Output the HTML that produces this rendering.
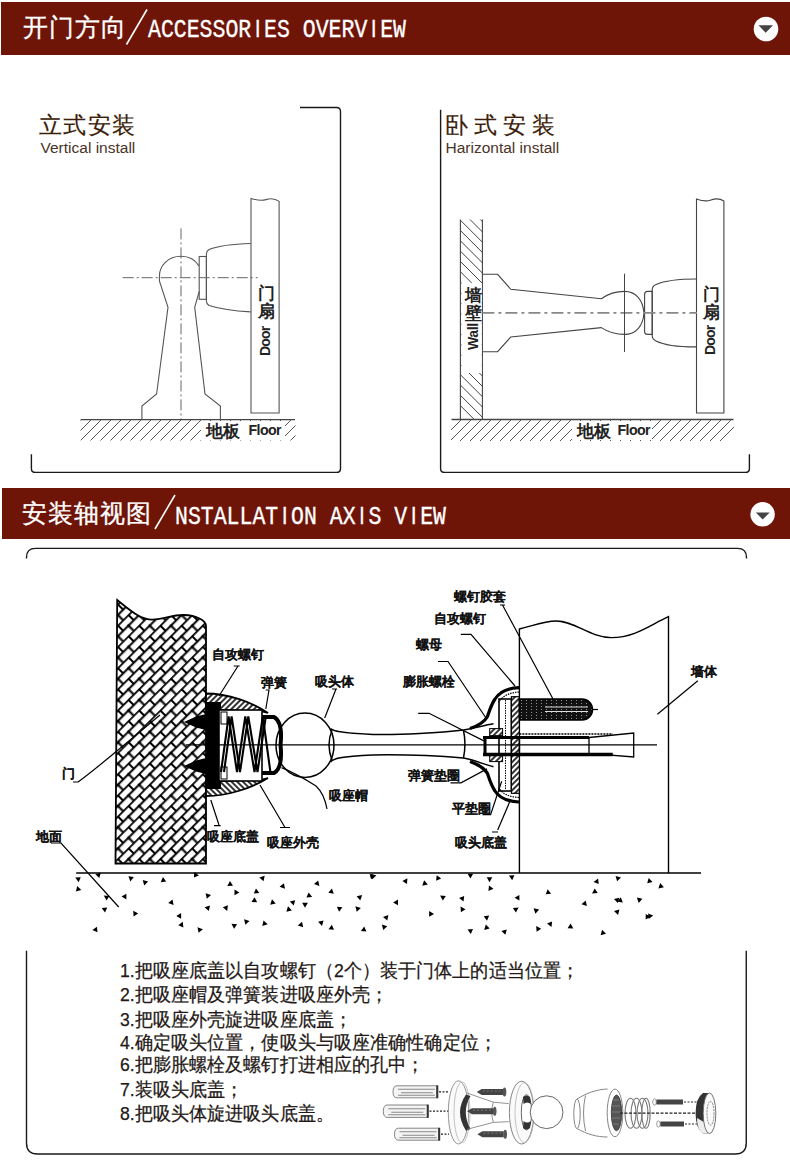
<!DOCTYPE html>
<html><head><meta charset="utf-8">
<style>
html,body{margin:0;padding:0;background:#fff;}
body{width:790px;height:1175px;position:relative;overflow:hidden;font-family:"Liberation Sans",sans-serif;}
.bar{position:absolute;background:#6e1508;}
.t{position:absolute;white-space:nowrap;line-height:1;}
.hcn{color:#fff;font-size:25px;letter-spacing:1.1px;-webkit-text-stroke:0.3px #fff;}
.hen{color:#fff;font-family:"Liberation Mono",monospace;font-size:21.5px;transform-origin:0 0;transform:scaleY(1.2);-webkit-text-stroke:0.3px #fff;}
.ttl{color:#3c1e0a;font-size:23px;letter-spacing:1.5px;-webkit-text-stroke:0.2px #3c1e0a;}
.sub{color:#4a3328;font-size:15.5px;letter-spacing:0px;}
.lb{color:#111;font-weight:bold;font-size:12.5px;-webkit-text-stroke:0.1px #111;}
.ins{color:#231815;font-size:18.5px;transform-origin:0 0;transform:scaleX(0.953);-webkit-text-stroke:0.25px #231815;}
svg{position:absolute;left:0;top:0;}
.ii{display:inline-block;width:12.9px;text-align:center;font-family:"Liberation Sans",sans-serif;font-size:19.6px;}
.fl{color:#222;font-weight:bold;font-size:17px;}
.fe{color:#222;font-weight:bold;font-size:14.2px;letter-spacing:-0.6px;}
.vl{color:#222;font-weight:bold;font-size:16.5px;line-height:18px;}
.rot{color:#222;font-weight:bold;font-size:14px;transform-origin:0 0;transform:rotate(-90deg);}
</style></head>
<body>
<div class="bar" style="left:1px;top:2px;width:789px;height:53px;"></div>
<div class="bar" style="left:2px;top:488px;width:788px;height:51px;"></div>

<svg width="790" height="1175" viewBox="0 0 790 1175">
  <!-- header icons -->
  <circle cx="766" cy="29" r="12.3" fill="#fff"/>
  <path d="M758.5 25.2 L773 25.2 L765.7 32.8 Z" fill="#444"/>
  <circle cx="762.6" cy="514.3" r="12.2" fill="#fff"/>
  <path d="M755.8 512.5 L769.7 512.5 L762.7 519.6 Z" fill="#444"/>
  <!-- header slashes -->
  <line x1="126.5" y1="44.5" x2="147" y2="9.5" stroke="#fff" stroke-width="1.6"/>
  <line x1="155" y1="529" x2="175" y2="495" stroke="#fff" stroke-width="1.6"/>


  <!-- ===== Section1 left: vertical install ===== -->
  <defs>
    <clipPath id="cf1"><rect x="80.5" y="420" width="215" height="20.5"/></clipPath>
    <clipPath id="cf2"><rect x="451" y="420" width="283" height="21"/></clipPath>
    <clipPath id="cw"><rect x="460.4" y="219.6" width="22" height="199.5"/></clipPath>
  </defs>
  <g fill="none" stroke="#555" stroke-width="1.1">
    <!-- door -->
    <path d="M251 413 V198.4 C256 200 262 200.8 266 199.6 C270 198.4 274 197.6 279.1 201.4 V413 Z" fill="#fff"/>
    <!-- cup -->
    <path d="M250.6 243.5 C232 244 218 246 209 249.5 Q206.4 251 206.4 254 V301 Q206.4 304 209 305.5 C220 309 235 311 250.6 311.9"/>
    <!-- collar -->
    <rect x="199.2" y="256.5" width="7.2" height="42.8"/>
    <!-- bulb & stem -->
    <path d="M199.2 291.4 L194.7 307.3 L205 394 L220.4 406 V419.7 M199 266 C195 259 188 256.2 181 256.2 C168 256.2 159.4 266 159.4 276 V280.8 L168 307.3 L156.6 394 L141.9 406 V419.7"/>
    <!-- floor -->
    <path d="M80.7 419.7 H295" stroke="#444" stroke-width="1.3"/>
  </g>
  <g clip-path="url(#cf1)" stroke="#555" stroke-width="1">
    <path d="M60 441 l22 -22 M70 441 l22 -22 M80 441 l22 -22 M90 441 l22 -22 M100 441 l22 -22 M110 441 l22 -22 M120 441 l22 -22 M130 441 l22 -22 M140 441 l22 -22 M150 441 l22 -22 M160 441 l22 -22 M170 441 l22 -22 M180 441 l22 -22 M190 441 l22 -22 M200 441 l22 -22 M210 441 l22 -22 M220 441 l22 -22 M230 441 l22 -22 M240 441 l22 -22 M250 441 l22 -22 M260 441 l22 -22 M270 441 l22 -22 M280 441 l22 -22 M290 441 l22 -22"/>
  </g>
  <rect x="201" y="421" width="84" height="19" fill="#fff"/>
  <!-- centerlines -->
  <g stroke="#666" stroke-width="1" stroke-dasharray="11 3 2 3" fill="none">
    <path d="M181 228.4 V419"/>
    <path d="M122.7 277.7 H257.7"/>
  </g>

  <!-- ===== Section1 right: horizontal install ===== -->
  <g fill="none" stroke="#444" stroke-width="1.1">
    <!-- wall -->
    <path d="M460.4 419.5 V219.6 M482.4 419.5 V219.6"/>
    <!-- door -->
    <path d="M696.5 413 V199 C702 201 707 201.5 711 200 C715 198.5 719 198 723.9 201 V413 Z" fill="#fff"/>
    <!-- base + rod -->
    <path d="M482.4 274.3 H497.6 L510.8 289.3 L601.3 298.7 C608 294 614 291.4 624.5 291.4 C636 291.4 643 300 644 313 C643 326 636 334.4 624.5 334.4 C614 334.4 608 332 601.3 327.6 L510.8 337 L497.6 351.7 H482.4"/>
    <!-- collar -->
    <path d="M652.2 291.4 H647.6 Q644.6 291.4 644.6 294.4 V331.4 Q644.6 334.4 647.6 334.4 H652.2 Z"/>
    <!-- cup -->
    <path d="M696.2 279 C678 279 664 281 656 284.5 Q652.2 286 652.2 290 V336 Q652.2 339 656 341 C664 345 678 347 696.2 346.9"/>
    <path d="M451.5 419.5 H733.5" stroke-width="1.3"/>
  </g>
  <g clip-path="url(#cw)" stroke="#444" stroke-width="1">
    <path d="M460.4 199.6 l30 30 M460.4 209.9 l30 30 M460.4 220.2 l30 30 M460.4 230.5 l30 30 M460.4 240.8 l30 30 M460.4 251.1 l30 30 M460.4 261.4 l30 30 M460.4 271.7 l30 30 M460.4 282 l30 30 M460.4 292.3 l30 30 M460.4 302.6 l30 30 M460.4 312.9 l30 30 M460.4 323.2 l30 30 M460.4 333.5 l30 30 M460.4 343.8 l30 30 M460.4 354.1 l30 30 M460.4 364.4 l30 30 M460.4 374.7 l30 30 M460.4 385 l30 30 M460.4 395.3 l30 30 M460.4 405.6 l30 30"/>
  </g>
  <g clip-path="url(#cf2)" stroke="#555" stroke-width="1">
    <path d="M430 441 l22 -22 M440 441 l22 -22 M450 441 l22 -22 M460 441 l22 -22 M470 441 l22 -22 M480 441 l22 -22 M490 441 l22 -22 M500 441 l22 -22 M510 441 l22 -22 M520 441 l22 -22 M530 441 l22 -22 M540 441 l22 -22 M550 441 l22 -22 M560 441 l22 -22 M570 441 l22 -22 M580 441 l22 -22 M590 441 l22 -22 M600 441 l22 -22 M610 441 l22 -22 M620 441 l22 -22 M630 441 l22 -22 M640 441 l22 -22 M650 441 l22 -22 M660 441 l22 -22 M670 441 l22 -22 M680 441 l22 -22 M690 441 l22 -22 M700 441 l22 -22 M710 441 l22 -22 M720 441 l22 -22"/>
  </g>
  <rect x="572" y="421" width="80" height="19" fill="#fff"/>
  <rect x="461.5" y="283" width="20.2" height="90" fill="#fff"/>
  <g stroke="#888" stroke-width="1.6" stroke-dasharray="12 4 3 4" fill="none">
    <path d="M482.4 312.9 H697"/>
  </g>
  <path d="M624.5 273.7 V352" stroke="#444" stroke-width="1"/>


  <!-- ===== Section2 axis view ===== -->
  <defs>
    <pattern id="brick" patternUnits="userSpaceOnUse" width="15" height="15" patternTransform="rotate(-45)">
      <rect width="15" height="15" fill="#fff"/>
      <path d="M0 0.7 H15 M0 8.2 H15 M1 0 V8.2 M8.5 8.2 V15" stroke="#000" stroke-width="2.1" fill="none"/><circle cx="1" cy="0.7" r="1.5"/><circle cx="8.5" cy="8.2" r="1.5"/>
    </pattern>
    <pattern id="hat" patternUnits="userSpaceOnUse" width="4" height="4" patternTransform="rotate(45)">
      <rect width="4" height="4" fill="#fff"/>
      <path d="M0 1 H4" stroke="#000" stroke-width="1.6"/>
    </pattern>
    <pattern id="hat2" patternUnits="userSpaceOnUse" width="4" height="4" patternTransform="rotate(-45)">
      <rect width="4" height="4" fill="#fff"/>
      <path d="M0 1 H4" stroke="#000" stroke-width="1.6"/>
    </pattern>
    <pattern id="dotp" patternUnits="userSpaceOnUse" width="5" height="3">
      <rect width="5" height="3" fill="#111"/>
      <rect x="1" y="1" width="0.8" height="0.8" fill="#ddd"/>
    </pattern>
  </defs>
  <!-- door block -->
  <path d="M117.2 600 C130 610 140 619.6 152 619.6 C165 619.6 172 614.5 184 615 C196 615.5 206 620 206 626 V863.5 H115.5 Z" fill="url(#brick)" stroke="#000" stroke-width="1.8"/>
  <!-- housing shells -->
  <path d="M206 693.5 C228 693.5 252 702 268 713 L262 711.5 L219 710 H206 Z" fill="url(#hat2)" stroke="#000" stroke-width="1.8"/>
  <path d="M206 796 C228 796 252 788 268 778 L262 779.5 L219 781 H206 Z" fill="url(#hat)" stroke="#000" stroke-width="1.8"/>
  <rect x="206" y="702" width="15" height="87" fill="#000"/>
  <path d="M184 722 L196 716.5 L210 713 L210 731 L196 727.5 Z M184 766 L196 760.5 L210 757 L210 775 L196 771.5 Z" fill="#000"/>
  <rect x="219" y="710" width="43" height="71" fill="#fff" stroke="#000" stroke-width="1.6"/>
  <rect x="221" y="712" width="6" height="12" fill="#fff" stroke="#000" stroke-width="1"/>
  <rect x="221" y="767" width="6" height="12" fill="#fff" stroke="#000" stroke-width="1"/>
  <g fill="none" stroke="#000" stroke-width="2.1">
    <polyline points="221,772 228.6,716.5 237,772 245.3,716.5 254.5,772 262.8,716.5 270.4,772"/>
    <polyline points="224,772 231.6,716.5 240,772 248.3,716.5 257.5,772 265.8,716.5"/>
  </g>
  <!-- ball -->
  <ellipse cx="305" cy="745.3" rx="29" ry="32.2" fill="#fff" stroke="#000" stroke-width="1.5"/>
  <path d="M262 717 H274 Q283 722 280.5 745 Q283 768 274 773 H262" fill="none" stroke="#000" stroke-width="4"/>
  <!-- rod -->
  <g fill="none" stroke="#000" stroke-width="1.5">
    <path d="M330.5 728.5 C333 731 340 733 373 734.4 C400 735 440 733 463.4 730.1 C475 728 485 725 493.5 723.7"/>
    <path d="M330.5 762 C333 758.5 340 756.5 373 754.9 C400 754.5 440 756 463.4 758.1 C475 760 485 765 493.5 766.7"/>
    <path d="M332 730 Q326 745 332 760"/>
    <path d="M463.4 730 Q466.5 744 463.4 758.5"/>
  </g>
  <!-- anchor side wall -->
  <path d="M519.4 873 V629 C535 625 545 621 556 621 C575 621 590 637.6 611.4 637.6 C635 637.6 650 625 668.5 616.7 V873" fill="none" stroke="#000" stroke-width="1.4"/>
  <!-- floor line -->
  <path d="M76.2 873 H701" stroke="#000" stroke-width="1.6"/>
  <g fill="#000"><polygon points="78.6,882.2 75.3,877.6 80.8,877.2"/><polygon points="95.4,874.2 100.8,872.7 99.3,878.1"/><polygon points="75.9,891.6 77.2,886.1 81.3,890.0"/><polygon points="128.4,876.3 133.8,876.9 130.4,881.4"/><polygon points="142.7,880.0 148.1,881.5 144.2,885.4"/><polygon points="166.2,881.6 160.7,882.2 162.9,877.1"/><polygon points="198.9,875.4 193.9,877.6 194.3,872.1"/><polygon points="126.4,893.7 126.4,899.4 121.6,896.5"/><polygon points="106.5,900.5 103.8,895.5 109.5,895.9"/><polygon points="105.0,912.6 101.7,908.1 107.2,907.5"/><polygon points="138.2,913.4 133.6,916.4 133.2,910.7"/><polygon points="168.2,903.1 172.5,899.4 173.6,904.9"/><polygon points="181.1,913.1 181.1,918.7 176.3,915.9"/><polygon points="178.3,925.3 182.7,921.7 183.4,927.4"/><polygon points="197.5,927.3 202.9,929.2 198.6,932.8"/><polygon points="97.5,932.3 92.4,930.1 96.9,926.8"/><polygon points="205.6,893.2 211.0,895.0 206.8,898.7"/><polygon points="210.0,905.4 208.8,910.9 204.6,907.2"/><polygon points="222.8,907.3 227.9,905.2 227.2,910.9"/><polygon points="230.0,881.1 233.0,885.7 227.3,886.1"/><polygon points="234.5,889.5 239.4,892.5 234.5,895.2"/><polygon points="259.3,892.9 253.8,893.5 256.0,888.4"/><polygon points="254.5,897.3 257.2,902.3 251.5,901.9"/><polygon points="231.4,923.8 237.1,924.2 234.1,928.8"/><polygon points="245.3,924.7 244.1,919.2 249.5,921.0"/><polygon points="267.7,924.2 262.3,926.0 263.5,920.5"/><polygon points="264.7,875.8 263.5,881.3 259.3,877.6"/><polygon points="279.6,886.8 283.9,883.2 285.0,888.7"/><polygon points="272.0,899.3 275.7,903.5 270.2,904.7"/><polygon points="295.2,900.2 293.7,905.6 289.8,901.5"/><polygon points="288.0,906.3 291.9,910.4 286.4,911.7"/><polygon points="307.9,902.8 305.0,907.7 302.2,902.8"/><polygon points="306.5,897.5 308.6,892.4 312.2,896.9"/><polygon points="318.2,880.4 319.4,885.9 314.0,884.1"/><polygon points="328.3,892.7 331.9,888.4 333.8,893.8"/><polygon points="342.4,907.3 339.1,911.8 336.9,906.7"/><polygon points="323.5,920.5 322.0,925.9 318.1,921.8"/><polygon points="334.0,929.8 328.5,929.3 331.8,924.8"/><polygon points="303.2,927.2 297.8,925.4 302.0,921.7"/><polygon points="360.3,900.5 356.6,896.3 362.1,895.1"/><polygon points="360.9,908.0 356.7,911.7 355.4,906.2"/><polygon points="360.9,931.0 364.2,926.5 366.4,931.6"/><polygon points="369.6,873.9 375.0,875.4 371.1,879.3"/><polygon points="372.2,879.3 371.0,873.8 376.4,875.6"/><polygon points="402.4,880.9 407.4,878.2 407.0,883.9"/><polygon points="422.3,885.7 424.1,880.3 427.8,884.5"/><polygon points="436.1,880.8 436.7,875.3 441.2,878.6"/><polygon points="467.6,873.7 473.2,873.7 470.4,878.6"/><polygon points="486.7,877.3 492.3,877.3 489.5,882.2"/><polygon points="514.4,875.2 512.2,880.2 508.9,875.6"/><polygon points="489.0,885.5 493.5,888.8 488.4,891.0"/><polygon points="445.8,895.9 442.8,900.5 440.1,895.5"/><polygon points="464.2,895.9 463.5,901.6 459.1,898.0"/><polygon points="465.5,909.3 460.9,912.3 460.5,906.6"/><polygon points="429.1,911.0 434.0,914.0 429.1,916.7"/><polygon points="398.0,905.3 393.1,902.5 398.0,899.6"/><polygon points="388.4,915.1 387.3,920.6 383.0,917.0"/><polygon points="387.3,926.2 383.2,929.9 381.9,924.4"/><polygon points="473.0,929.1 470.8,934.1 467.5,929.5"/><polygon points="483.7,916.2 489.2,915.6 487.0,920.7"/><polygon points="485.8,924.5 489.7,928.6 484.2,929.9"/><polygon points="505.3,934.8 501.4,930.9 506.8,929.4"/><polygon points="519.4,894.9 519.4,900.5 514.6,897.7"/><polygon points="512.9,908.0 518.6,907.6 515.9,912.6"/><polygon points="535.4,913.8 533.6,908.3 539.1,909.6"/><polygon points="551.1,893.7 545.7,894.3 547.7,889.2"/><polygon points="552.1,921.5 551.5,926.9 547.0,923.5"/><polygon points="541.2,928.8 536.6,931.8 536.2,926.1"/><polygon points="573.3,928.6 567.6,928.2 570.6,923.6"/><polygon points="585.7,900.6 586.9,906.1 581.5,904.3"/><polygon points="592.0,893.4 594.7,888.4 597.7,893.0"/><polygon points="598.7,884.1 593.6,881.9 598.1,878.6"/><polygon points="617.1,881.3 615.6,875.9 621.0,877.4"/><polygon points="620.7,897.3 622.9,902.4 617.4,901.8"/><polygon points="619.4,909.5 618.1,914.9 614.0,911.0"/><polygon points="606.0,933.7 600.6,935.2 602.1,929.8"/><polygon points="636.9,897.5 642.4,898.7 638.7,902.9"/><polygon points="652.6,882.0 647.2,883.3 648.7,877.9"/><polygon points="660.2,883.1 663.9,887.3 658.4,888.5"/><polygon points="645.7,919.5 645.7,913.9 650.6,916.7"/><polygon points="619.4,897.7 617.8,903.1 613.9,899.0"/><polygon points="653.2,915.6 648.7,918.9 648.1,913.4"/></g>
  <!-- anchor cup -->
  <rect x="499" y="699" width="12.4" height="92" fill="#fff" stroke="#000" stroke-width="1.6"/>
  <path d="M505.5 700 V790" stroke="#000" stroke-width="1" stroke-dasharray="1.5 1"/>
  <rect x="511.4" y="696.7" width="8" height="96.6" fill="url(#hat2)" stroke="#000" stroke-width="1.2"/>
  <path d="M519 687.6 C510 688 500 691 495 699 C491 705 489 712 487.5 716.4 C485 721 480 725 470 728.6 M519 802 C510 801.5 500 799 495 791 C491 785 489 778 487.5 773.6 C485 769 480 765 470 761.4" fill="none" stroke="#000" stroke-width="3.2"/>
  <path d="M519 692 C511 692.5 503 695 499 702 M519 797.5 C511 797 503 795 499 788" fill="none" stroke="#000" stroke-width="1.2" stroke-dasharray="1.5 1"/>
  <rect x="489.7" y="728.6" width="12.9" height="7" fill="url(#hat2)" stroke="#000" stroke-width="1"/>
  <rect x="489.7" y="754.8" width="12.9" height="6.8" fill="url(#hat2)" stroke="#000" stroke-width="1"/>
  <path d="M519.4 699 H582 A10.5 10.5 0 0 1 582 720 H519.4 Z" fill="url(#dotp)" stroke="#000" stroke-width="1.6"/>
  <path d="M545 707 H588 M545 711.5 H588" stroke="#ddd" stroke-width="1"/>
  <path d="M592 709.5 H598" stroke="#000" stroke-width="1.2"/>
  <g fill="none" stroke="#000">
    <path d="M519.4 734 H612.8" stroke-width="1.5" stroke-dasharray="2 1"/>
    <path d="M483 754.5 H612.8" stroke-width="3.4"/>
    <path d="M483 737.5 H589" stroke-width="2.8"/>
    <path d="M589 737.5 L633.7 733 V757 L589 753.5 V737.5" stroke-width="1.3"/>
    <path d="M485 737 V755" stroke-width="3"/>
    <path d="M519.4 737 V756" stroke-width="1.5"/>
  </g>
  <!-- centerline -->
  <path d="M186 744.8 H657" stroke="#000" stroke-width="1.2"/>
  <!-- leaders -->
  <g fill="none" stroke="#000" stroke-width="1.2">
    <path d="M233.7 666 H239.7 M238 666 L219 696"/>
    <path d="M265.8 690 H269.6 M269 690 L265.8 709"/>
    <path d="M332 689 H337 M336 689 L324.7 718"/>
    <path d="M327 809 C325 798 322 791.6 316 786 C305 779 295 773 281.5 767.6"/>
    <path d="M73 782 H78 C95 770 130 740 160 715"/>
    <path d="M51 843 H61 L118.7 907"/>
    <path d="M214 825.6 H220.6 M219 825 L210.8 800"/>
    <path d="M280 827.5 H290 M285 827.5 L260 785"/>
    <path d="M500 605 H505 M502.5 605 L553 699"/>
    <path d="M460.8 634.4 H471 L515 686"/>
    <path d="M438 661.5 H448 L486 718"/>
    <path d="M418.2 713.3 H429 L483.9 740.9"/>
    <path d="M450.5 782.8 H461 L487 768.9"/>
    <path d="M482.5 814.7 H490.6 L501.7 781.3"/>
    <path d="M492 832 H498 M497.7 830 L509.8 801.6"/>
    <path d="M697.8 680.8 L657.4 714.2"/>
  </g>


  <!-- ===== exploded illustration ===== -->
  <g>
    <path d="M397 1085.8 H436.8 V1097.8 H397 Q393 1097.8 393 1091.8 Q393 1085.8 397 1085.8 Z" fill="#f4f4f4" stroke="#777" stroke-width="0.9"/>
    <path d="M398 1089.3 H434.8 M401 1092.8 H432.8 M398 1095.3 H434.8" stroke="#888" stroke-width="1.1"/>
    <path d="M437.3 1085.3 V1098.3" stroke="#333" stroke-width="2"/><path d="M387.3 1105.0 H427.3 V1117.4 H387.3 Q383.3 1117.4 383.3 1111.2 Q383.3 1105.0 387.3 1105.0 Z" fill="#f4f4f4" stroke="#777" stroke-width="0.9"/>
    <path d="M388.3 1108.7 H425.3 M391.3 1112.2 H423.3 M388.3 1114.7 H425.3" stroke="#888" stroke-width="1.1"/>
    <path d="M427.8 1104.5 V1117.9" stroke="#333" stroke-width="2"/><path d="M398.5 1128.2 H438.7 V1140.2 H398.5 Q394.5 1140.2 394.5 1134.2 Q394.5 1128.2 398.5 1128.2 Z" fill="#f4f4f4" stroke="#777" stroke-width="0.9"/>
    <path d="M399.5 1131.7 H436.7 M402.5 1135.2 H434.7 M399.5 1137.7 H436.7" stroke="#888" stroke-width="1.1"/>
    <path d="M439.2 1127.7 V1140.7" stroke="#333" stroke-width="2"/>
    <path d="M439 1091.8 H449 M429.5 1111.2 H449 M441 1134.2 H449" stroke="#222" stroke-width="1.3" stroke-dasharray="2 1.5"/>
    <!-- disc1 -->
    <ellipse cx="458.5" cy="1112.4" rx="10.2" ry="31.6" fill="#fafafa" stroke="#888" stroke-width="0.9"/>
    <ellipse cx="462" cy="1112.4" rx="8" ry="30.5" fill="none" stroke="#aaa" stroke-width="0.7"/>
    <path d="M466 1094.5 Q454 1112 466 1130.7 L470.5 1129 Q461 1112 470.5 1096 Z" fill="#333"/>
    <!-- cone -->
    <path d="M467 1093 L493.4 1102.2 L508.7 1103.6 M467 1129.3 L493.4 1122.4 L508.7 1121.7 M493.4 1102.2 Q490 1112 493.4 1122.4" fill="none" stroke="#777" stroke-width="0.8"/>
    <path d="M476.7 1092 L481.7 1089 H503 V1095 H481.7 Z" fill="#444"/>
    <path d="M482.7 1091 H502" stroke="#999" stroke-width="0.6" stroke-dasharray="2 2"/>
    <ellipse cx="504.5" cy="1092" rx="1.8" ry="4.5" fill="#555"/><path d="M467 1111.2 L472 1108.2 H493.2 V1114.2 H472 Z" fill="#444"/>
    <path d="M473 1110.2 H492.2" stroke="#999" stroke-width="0.6" stroke-dasharray="2 2"/>
    <ellipse cx="494.7" cy="1111.2" rx="1.8" ry="4.5" fill="#555"/><path d="M477.4 1134.2 L482.4 1131.2 H503.7 V1137.2 H482.4 Z" fill="#444"/>
    <path d="M483.4 1133.2 H502.7" stroke="#999" stroke-width="0.6" stroke-dasharray="2 2"/>
    <ellipse cx="505.2" cy="1134.2" rx="1.8" ry="4.5" fill="#555"/>
    <!-- disc2 -->
    <ellipse cx="521.6" cy="1112.6" rx="12.2" ry="31.4" fill="#fafafa" stroke="#777" stroke-width="0.9"/>
    <ellipse cx="524.5" cy="1112.6" rx="9.5" ry="30" fill="none" stroke="#aaa" stroke-width="0.7"/>
    <ellipse cx="526.5" cy="1112.3" rx="5.2" ry="17.7" fill="#fff" stroke="#555" stroke-width="0.9"/>
    <path d="M523 1097 Q526 1094 530 1097 L531 1104 Q527 1101 523.5 1104 Z M523 1128 Q526 1131 530 1128 L531 1121 Q527 1124 523.5 1121 Z" fill="#333"/>
    <!-- ball -->
    <circle cx="546.6" cy="1112.2" r="16.4" fill="#fff" stroke="#555" stroke-width="0.9"/>
    <!-- cup -->
    <path d="M577 1099 C587 1093 596 1089.5 607.5 1089 M577 1128.6 C587 1134 596 1137 607.5 1137 M585.5 1095.5 Q581.5 1113 585.5 1131" fill="none" stroke="#777" stroke-width="0.9"/>
    <ellipse cx="577" cy="1113.8" rx="3.2" ry="14.8" fill="#fff" stroke="#777" stroke-width="0.9"/>
    <ellipse cx="615" cy="1112.9" rx="7.8" ry="23.8" fill="#fff" stroke="#777" stroke-width="0.9"/>
    <ellipse cx="616.5" cy="1112.9" rx="5.2" ry="17.8" fill="#555" stroke="#333" stroke-width="0.8"/>
    <path d="M613 1100 H619 M612 1106 H620 M612 1112 H620 M612 1118 H620 M613 1124 H619" stroke="#999" stroke-width="0.6"/>
    <!-- spring -->
    <g fill="none" stroke="#777" stroke-width="1.1">
      <ellipse cx="630.5" cy="1113.3" rx="5.5" ry="15"/>
      <ellipse cx="636.5" cy="1113.3" rx="5.5" ry="15"/>
      <ellipse cx="642.5" cy="1113.3" rx="5.5" ry="15"/>
      <ellipse cx="646" cy="1113.3" rx="4.2" ry="15"/>
    </g>
    <path d="M620 1113.2 H695" stroke="#222" stroke-width="1.2" stroke-dasharray="3 1.5"/>
    <path d="M653 1102 L657 1099.5 H683 V1104.5 H657 Z" fill="#444"/>
    <ellipse cx="654.5" cy="1102" rx="1.8" ry="3.2" fill="#fff" stroke="#777" stroke-width="0.7"/>
    <path d="M657 1124 L661 1121.5 H684 V1126.5 H661 Z" fill="#444"/>
    <ellipse cx="658.5" cy="1124" rx="1.8" ry="3.2" fill="#fff" stroke="#777" stroke-width="0.7"/>
    <path d="M684 1102 H697 M685 1124 H697" stroke="#222" stroke-width="1.2" stroke-dasharray="2 1.5"/>
    <!-- ring -->
    <path d="M709 1093 H703 Q695.6 1098 695.6 1113.3 Q695.6 1128.6 703 1133.6 H709 Z" fill="#333"/>
    <path d="M697 1118 Q697 1130 703 1133.6 H709 V1125 Z" fill="#eee"/>
    <ellipse cx="709.5" cy="1113.3" rx="6.3" ry="20.3" fill="#fafafa" stroke="#666" stroke-width="0.9"/>
    <ellipse cx="710.5" cy="1113.3" rx="3.5" ry="12" fill="none" stroke="#777" stroke-width="0.9" stroke-dasharray="2 1"/>
  </g>

  <!-- section1 panel borders -->
  <g fill="none" stroke="#1a1a1a" stroke-width="1.4">
    <path d="M300 107.5 H336.5 Q340.5 107.5 340.5 111.5 V468.4 Q340.5 472.4 336.5 472.4 H35.4 Q31.4 472.4 31.4 468.4 V454.2"/>
    <path d="M440.6 109.7 V468.4 Q440.6 472.4 444.6 472.4 H745.4 Q749.4 472.4 749.4 468.4 V454.2"/>
    <!-- section2 box -->
    <path d="M26.5 558.5 V557.4 Q26.5 548.4 35.5 548.4 H737.5 Q746.5 548.4 746.5 557.4 V558.5"/>
    <path d="M26.5 950.8 V1143 Q26.5 1154 37.5 1154 H735.25 Q746.25 1154 746.25 1143 V950.8"/>
  </g>
</svg>

<div class="t hcn" style="left:22.5px;top:15px;">开门方向</div>
<div class="t hen" style="left:148px;top:17.5px;">ACCESSOR<span class="ii">I</span>ES OVERV<span class="ii">I</span>EW</div>
<div class="t hcn" style="left:22px;top:501.2px;">安装轴视图</div>
<div class="t hen" style="left:175px;top:504.5px;">NSTALLAT<span class="ii">I</span>ON AX<span class="ii">I</span>S V<span class="ii">I</span>EW</div>

<div class="t ttl" style="left:38.5px;top:114px;">立式安装</div>
<div class="t sub" style="left:40.5px;top:140px;">Vertical install</div>
<div class="t ttl" style="left:445px;top:114px;letter-spacing:6px;">卧式安装</div>
<div class="t sub" style="left:445.5px;top:140px;">Harizontal install</div>


<div class="t fl" style="left:205.5px;top:422.5px;">地板</div>
<div class="t fe" style="left:248.5px;top:423.2px;">Floor</div>
<div class="t fl" style="left:577px;top:423px;">地板</div>
<div class="t fe" style="left:617.5px;top:423.2px;">Floor</div>
<div class="t vl" style="left:258px;top:284px;">门<br>扇</div>
<div class="t vl" style="left:702.5px;top:285px;">门<br>扇</div>
<div class="t vl" style="left:464.5px;top:286px;">墙<br>壁</div>
<div class="t rot" style="left:258px;top:355.5px;letter-spacing:-0.8px;">Door</div>
<div class="t rot" style="left:703px;top:355px;letter-spacing:-0.8px;">Door</div>
<div class="t rot" style="left:465.5px;top:349.8px;letter-spacing:-0.4px;">Wall</div>


<div class="t lb" style="left:212px;top:648.5px;">自攻螺钉</div>
<div class="t lb" style="left:261px;top:676.5px;">弹簧</div>
<div class="t lb" style="left:315px;top:675.5px;">吸头体</div>
<div class="t lb" style="left:329px;top:789.5px;">吸座帽</div>
<div class="t lb" style="left:62px;top:767.5px;">门</div>
<div class="t lb" style="left:36px;top:830.5px;">地面</div>
<div class="t lb" style="left:207px;top:830.5px;">吸座底盖</div>
<div class="t lb" style="left:267px;top:836.5px;">吸座外壳</div>
<div class="t lb" style="left:454px;top:590.5px;">螺钉胶套</div>
<div class="t lb" style="left:434px;top:612.5px;">自攻螺钉</div>
<div class="t lb" style="left:416px;top:638.5px;">螺母</div>
<div class="t lb" style="left:403px;top:675.5px;">膨胀螺栓</div>
<div class="t lb" style="left:408px;top:769.5px;">弹簧垫圈</div>
<div class="t lb" style="left:452px;top:802.5px;">平垫圈</div>
<div class="t lb" style="left:455px;top:836.5px;">吸头底盖</div>
<div class="t lb" style="left:691px;top:665.5px;">墙体</div>

<div class="t ins" style="left:120px;top:961.5px;">1.把吸座底盖以自攻螺钉（2个）装于门体上的适当位置；</div>
<div class="t ins" style="left:120px;top:985.5px;">2.把吸座帽及弹簧装进吸座外壳；</div>
<div class="t ins" style="left:120px;top:1010.5px;">3.把吸座外壳旋进吸座底盖；</div>
<div class="t ins" style="left:120px;top:1034px;">4.确定吸头位置，使吸头与吸座准确性确定位；</div>
<div class="t ins" style="left:120px;top:1056px;">6.把膨胀螺栓及螺钉打进相应的孔中；</div>
<div class="t ins" style="left:120px;top:1081px;">7.装吸头底盖；</div>
<div class="t ins" style="left:120px;top:1105px;">8.把吸头体旋进吸头底盖。</div>
</body></html>
